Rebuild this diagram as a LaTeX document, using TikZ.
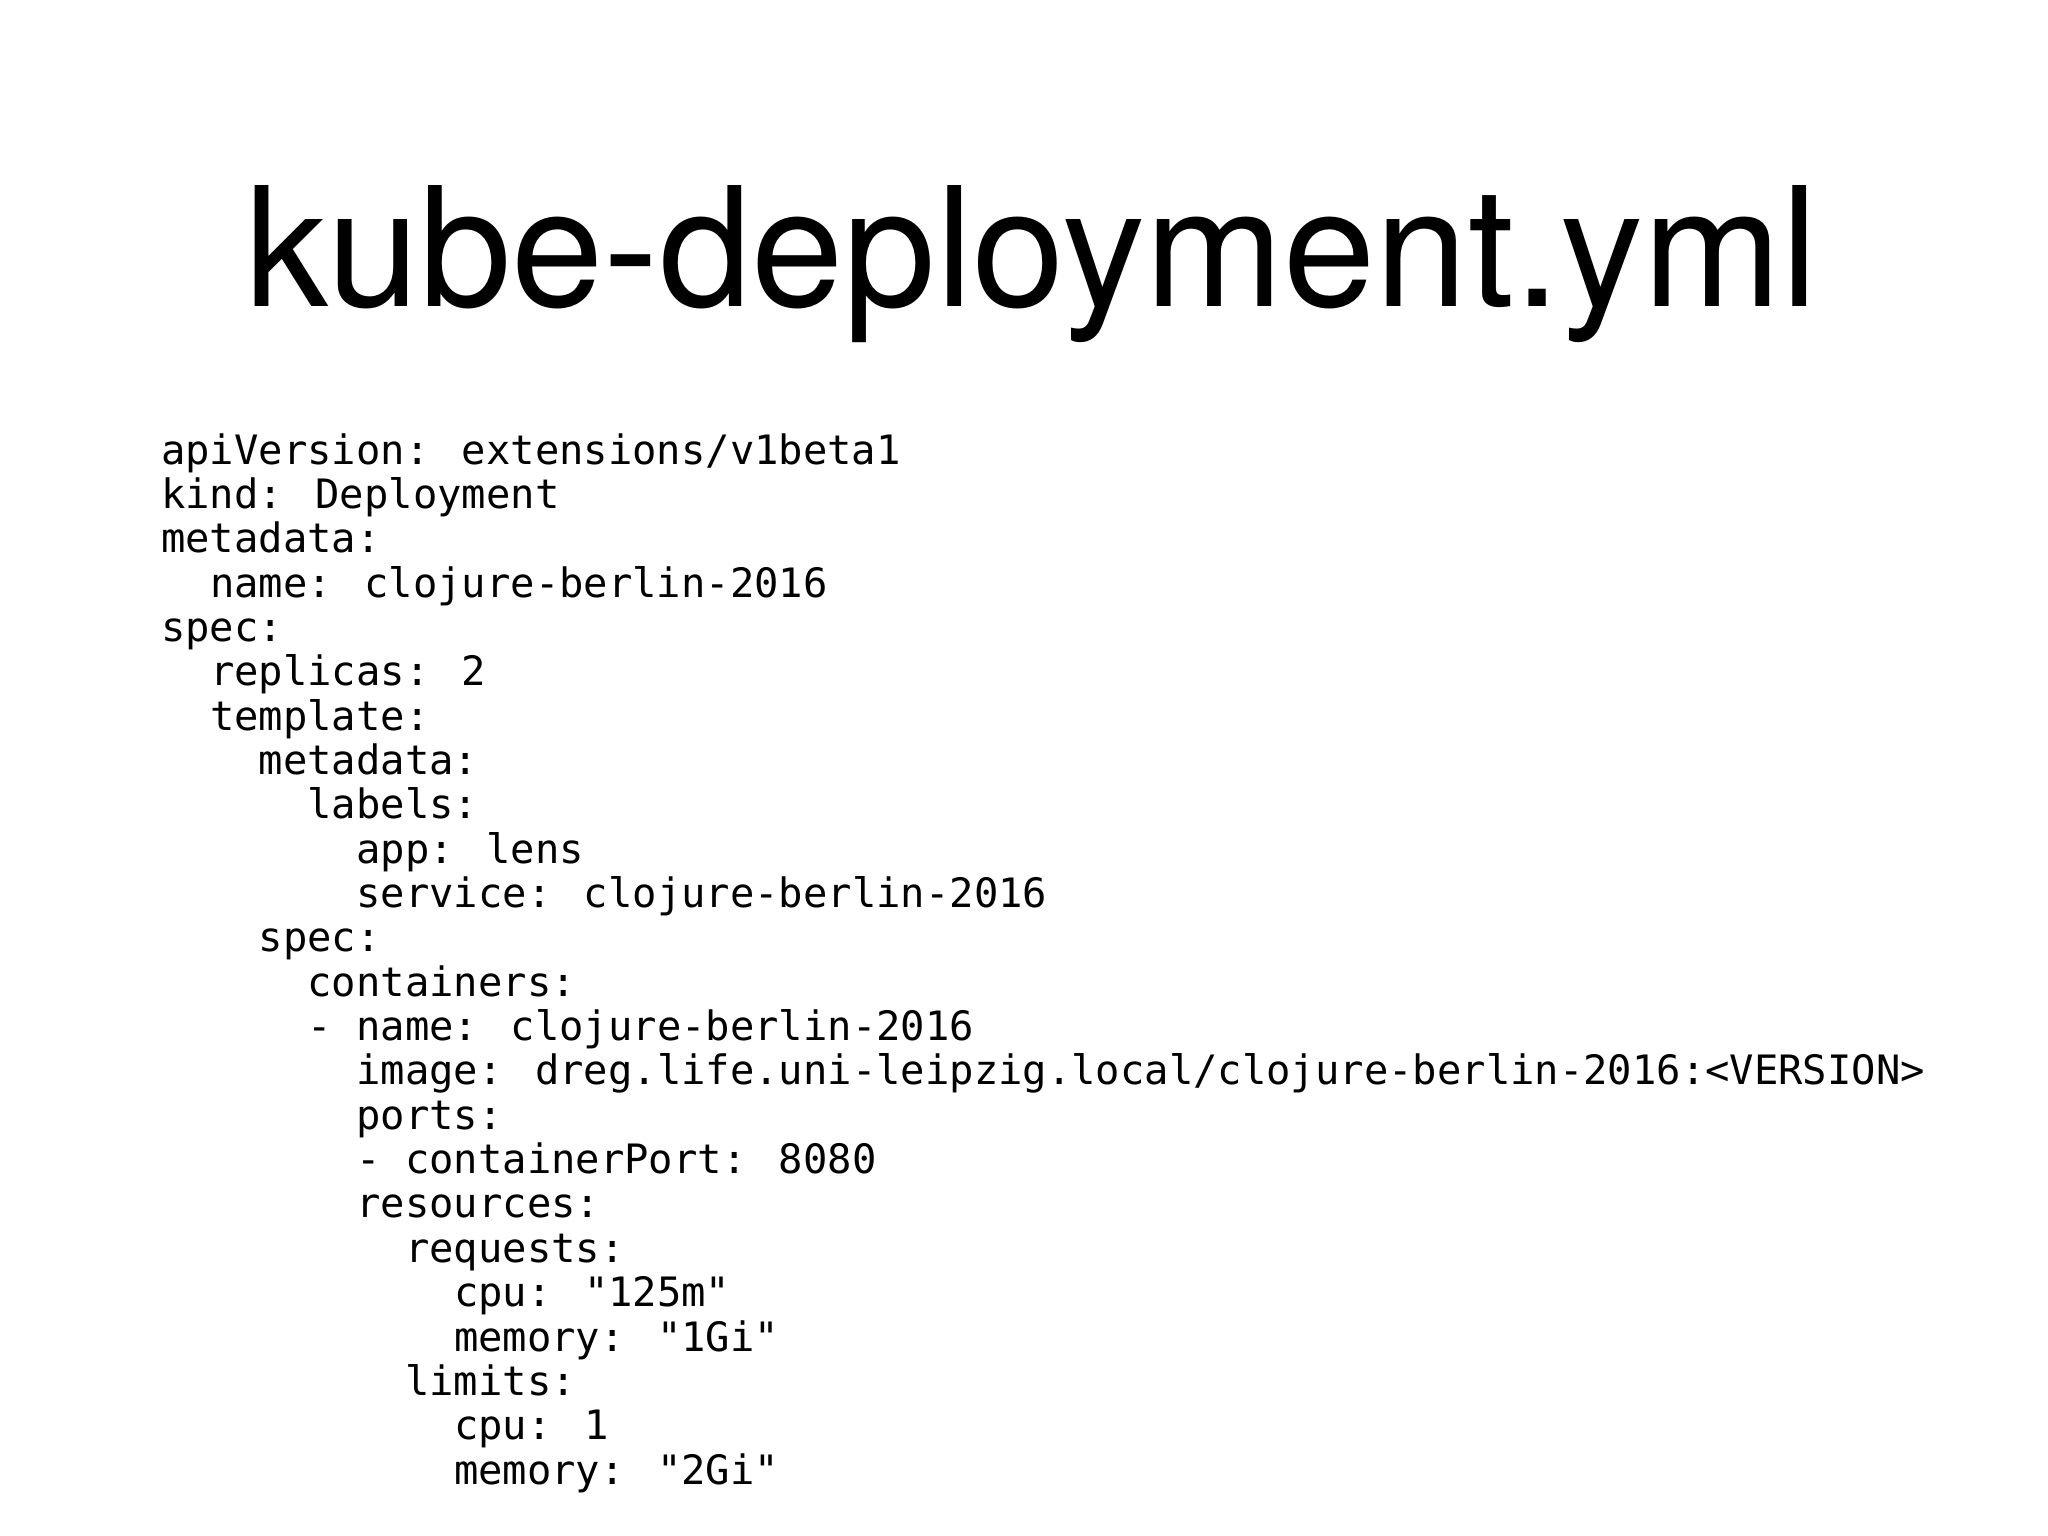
\documentclass[tikz,border=0pt]{standalone}
\usepackage{fontspec}
\setmainfont{TeX Gyre Heros}
\newfontfamily\codefont{DejaVu Sans Mono}
\begin{document}
\begin{tikzpicture}[x=1pt,y=-1pt,
  codeline/.style={anchor=base west,inner sep=0pt,font=\codefont\fontsize{40.5}{44}\selectfont}]
\useasboundingbox[fill=white] (0,0) rectangle (2048,1536);
\node[anchor=base,inner sep=0pt,font=\fontsize{166}{180}\selectfont] (title) at (1032,306) {kube-deployment.yml};
\foreach \n/\ind/\t in {
0/0/{apiVersion: extensions/v1beta1},
1/0/{kind: Deployment},
2/0/{metadata:},
3/2/{name: clojure-berlin-2016},
4/0/{spec:},
5/2/{replicas: 2},
6/2/{template:},
7/4/{metadata:},
8/6/{labels:},
9/8/{app: lens},
10/8/{service: clojure-berlin-2016},
11/4/{spec:},
12/6/{containers:},
13/6/{- name: clojure-berlin-2016},
14/8/{image: dreg.life.uni-leipzig.local/clojure-berlin-2016:<VERSION>},
15/8/{ports:},
16/8/{- containerPort: 8080},
17/8/{resources:},
18/10/{requests:},
19/12/{cpu: "125m"},
20/12/{memory: "1Gi"},
21/10/{limits:},
22/12/{cpu: 1},
23/12/{memory: "2Gi"}}
{\node[codeline] (l\n) at ({161+\ind*24.4},{464+\n*44.35}) {\t};}
\end{tikzpicture}
\end{document}
